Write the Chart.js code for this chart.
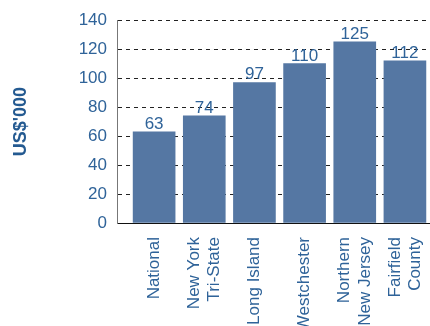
<!DOCTYPE html>
<html>
<head>
<meta charset="utf-8">
<script src="https://cdn.jsdelivr.net/npm/chart.js@4"></script>
<style>
  html, body { margin: 0; padding: 0; background: #fff; }
  #wrap { width: 430px; height: 326px; }
</style>
</head>
<body>
<div id="wrap"><canvas id="myChart" width="430" height="326"></canvas></div>
<script>
const regions = [
    'National',
    ['New York', 'Tri-State'],
    'Long Island',
    'Westchester',
    ['Northern', 'New Jersey'],
    ['Fairfield', 'County']
];
const income = [63, 74, 97, 110, 125, 112];
const yTicks = [0, 20, 40, 60, 80, 100, 120, 140];

const blue = '#2f6399';
const barBlue = '#5577a3';
const font = 'Liberation Sans, Arial, sans-serif';

// value printed just above each bar
const valueLabels = {
    id: 'valueLabels',
    afterDatasetsDraw(chart) {
        const ctx = chart.ctx;
        const meta = chart.getDatasetMeta(0);
        ctx.save();
        ctx.font = '17px ' + font;
        ctx.fillStyle = blue;
        ctx.textAlign = 'center';
        ctx.textBaseline = 'alphabetic';
        meta.data.forEach((bar, i) => {
            ctx.fillText(String(income[i]), bar.x, bar.y - 3);
        });
        ctx.restore();
    }
};

new Chart(document.getElementById('myChart'), {
    type: 'bar',
    data: {
        datasets: [{
            data: income.map((v, i) => ({ x: i, y: v })),
            backgroundColor: barBlue,
            borderWidth: 0,
            barThickness: 42
        }]
    },
    options: {
        responsive: false,
        animation: false,
        layout: { padding: { top: 20, right: 0, bottom: 0, left: 0 } },
        plugins: {
            legend: { display: false },
            tooltip: { enabled: false }
        },
        scales: {
            x: {
                type: 'linear',
                offset: false,
                min: -0.74,
                max: 5.5,
                // two-line labels are nudged left so both lines sit centred under the bar
                afterBuildTicks: (scale) => {
                    scale.ticks = regions.map((r, i) => ({
                        value: Array.isArray(r) ? i - 0.2 : i
                    }));
                },
                afterFit: (scale) => {
                    scale.height = 103;
                    scale.paddingLeft = 0;
                    scale.paddingRight = 0;
                },
                grid: { display: false },
                border: { color: '#111', width: 1 },
                ticks: {
                    autoSkip: false,
                    minRotation: 90,
                    maxRotation: 90,
                    padding: 6,
                    color: blue,
                    font: { family: font, size: 17 },
                    callback: (v) => regions[Math.round(v)]
                }
            },
            y: {
                min: 0,
                max: 140,
                afterBuildTicks: (scale) => {
                    scale.ticks = yTicks.map(v => ({ value: v }));
                },
                afterFit: (scale) => { scale.width = 117; },
                grid: {
                    drawTicks: false,
                    color: (c) => c.tick.value === 0 ? 'rgba(0,0,0,0)' : '#222',
                    lineWidth: 1
                },
                border: { color: '#777', width: 1, dash: [4, 4] },
                ticks: {
                    padding: 10,
                    color: blue,
                    font: { family: font, size: 17 }
                },
                title: {
                    display: true,
                    text: "US$'000",
                    color: '#245a91',
                    font: { family: font, size: 18, weight: 'bold' },
                    padding: { top: 10, bottom: 0 }
                }
            }
        }
    },
    plugins: [valueLabels]
});
</script>
</body>
</html>
